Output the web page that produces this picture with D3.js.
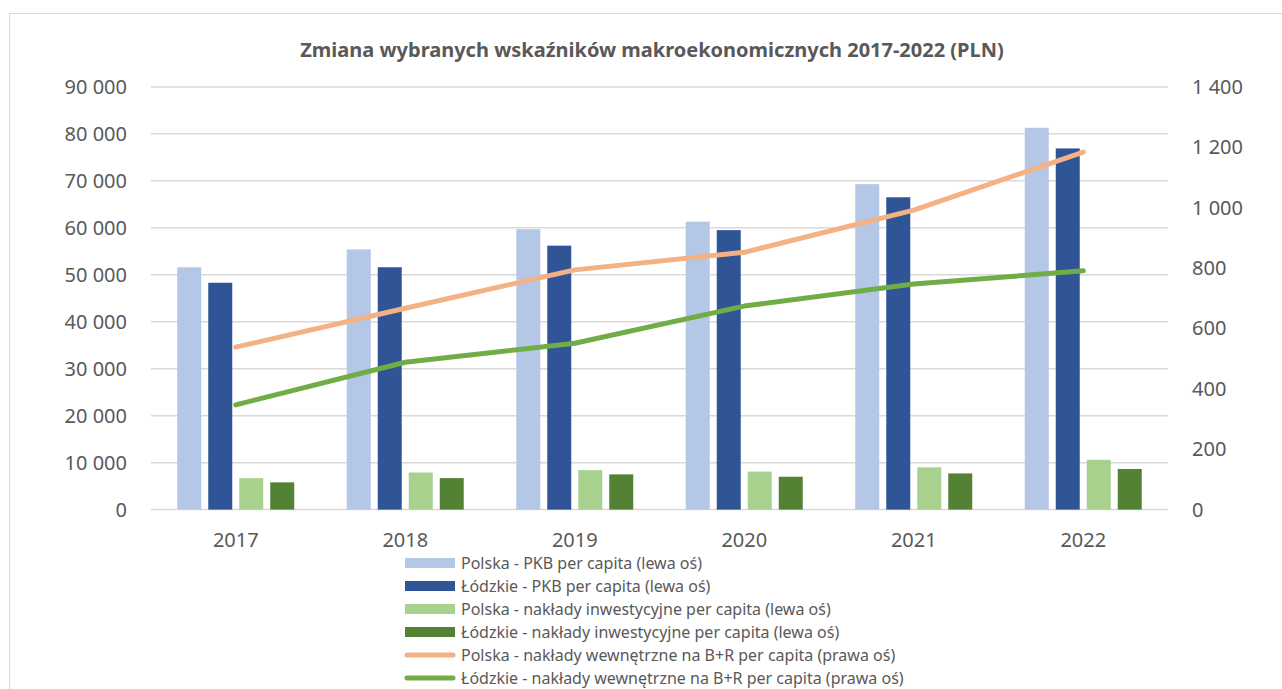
<!DOCTYPE html>
<html>
<head>
<meta charset="utf-8">
<script src="https://cdn.jsdelivr.net/npm/d3@7"></script>
<style>
  body { margin: 0; background: #fff; }
  text { font-family: "Noto Sans", "Open Sans", sans-serif; }
</style>
</head>
<body>
<div class="canvas"></div>
<script>
// data
const years = ['2017', '2018', '2019', '2020', '2021', '2022'];
const pkbPolska = [51600, 55400, 59700, 61300, 69300, 81300];
const pkbLodzkie = [48300, 51600, 56200, 59500, 66500, 76900];
const inwPolska = [6700, 7900, 8400, 8100, 9000, 10600];
const inwLodzkie = [5800, 6700, 7500, 7000, 7700, 8650];
const brPolska = [538, 667, 794, 852, 992, 1184];
const brLodzkie = [347, 488, 551, 674, 747, 791];
const leftTicks = [0, 10000, 20000, 30000, 40000, 50000, 60000, 70000, 80000, 90000];
const rightTicks = [0, 200, 400, 600, 800, 1000, 1200, 1400];

const barSeries = [
  {name: 'Polska - PKB per capita (lewa oś)', values: pkbPolska, color: '#B4C7E7'},
  {name: 'Łódzkie - PKB per capita (lewa oś)', values: pkbLodzkie, color: '#2F5597'},
  {name: 'Polska - nakłady inwestycyjne per capita (lewa oś)', values: inwPolska, color: '#A9D18E'},
  {name: 'Łódzkie - nakłady inwestycyjne per capita (lewa oś)', values: inwLodzkie, color: '#548235'}
];
const lineSeries = [
  {name: 'Polska - nakłady wewnętrzne na B+R per capita (prawa oś)', values: brPolska, color: '#F4B183'},
  {name: 'Łódzkie - nakłady wewnętrzne na B+R per capita (prawa oś)', values: brLodzkie, color: '#70AD47'}
];

const width = 1282, height = 689;
const svg = d3.select('.canvas')
  .append('svg')
    .attr('width', width)
    .attr('height', height);

// chart border
svg.append('rect')
  .attr('x', 9.5).attr('y', 13.5)
  .attr('width', 1290).attr('height', 700)
  .attr('fill', 'none')
  .attr('stroke', '#d9d9d9')
  .attr('stroke-width', 1);

// title
svg.append('text')
  .attr('x', 652).attr('y', 57)
  .attr('text-anchor', 'middle')
  .attr('font-size', 20)
  .attr('font-weight', 'bold')
  .attr('fill', '#595959')
  .text('Zmiana wybranych wskaźników makroekonomicznych 2017-2022 (PLN)');

// plot area
const plot = {left: 151, right: 1168, top: 86.9, bottom: 509.6};

const x = d3.scaleBand()
  .domain(years)
  .range([plot.left, plot.right]);

const yLeft = d3.scaleLinear()
  .domain([0, 90000])
  .range([plot.bottom, plot.top]);

const yRight = d3.scaleLinear()
  .domain([0, 1400])
  .range([plot.bottom, plot.top]);

const fmt = d => d3.format(',')(d).replace(/,/g, ' ');

// gridlines
svg.append('g')
  .selectAll('line')
  .data(leftTicks)
  .join('line')
    .attr('x1', plot.left).attr('x2', plot.right)
    .attr('y1', d => yLeft(d)).attr('y2', d => yLeft(d))
    .attr('stroke', '#d9d9d9')
    .attr('stroke-width', 1.5);

// left axis
const yAxisLeft = d3.axisLeft(yLeft)
  .tickValues(leftTicks)
  .tickSize(0)
  .tickPadding(0)
  .tickFormat(fmt);
const leftG = svg.append('g')
  .attr('transform', 'translate(127, 0)')
  .call(yAxisLeft);
leftG.select('.domain').remove();
leftG.selectAll('text')
  .attr('font-size', 20)
  .attr('fill', '#595959')
  .attr('font-family', '"Noto Sans", sans-serif');

// right axis
const yAxisRight = d3.axisRight(yRight)
  .tickValues(rightTicks)
  .tickSize(0)
  .tickPadding(0)
  .tickFormat(fmt);
const rightG = svg.append('g')
  .attr('transform', 'translate(1192, 0)')
  .call(yAxisRight);
rightG.select('.domain').remove();
rightG.selectAll('text')
  .attr('font-size', 20)
  .attr('fill', '#595959')
  .attr('font-family', '"Noto Sans", sans-serif');

// x axis
const xAxis = d3.axisBottom(x).tickSize(0).tickPadding(0);
const xG = svg.append('g')
  .attr('transform', `translate(0, ${plot.bottom + 23})`)
  .call(xAxis);
xG.select('.domain').remove();
xG.selectAll('text')
  .attr('font-size', 20)
  .attr('fill', '#595959')
  .attr('font-family', '"Noto Sans", sans-serif');

// bars: 4 per year, width 24, step 31
const barW = 24, barStep = 31;
const groupW = barW + barStep * (barSeries.length - 1);
const inner = d3.scaleBand()
  .domain(d3.range(barSeries.length))
  .range([0, groupW])
  .paddingInner((barStep - barW) / barStep);

barSeries.forEach((s, i) => {
  svg.append('g')
    .selectAll('rect')
    .data(s.values)
    .join('rect')
      .attr('x', (d, j) => x(years[j]) + x.bandwidth() / 2 - groupW / 2 + inner(i))
      .attr('y', d => yLeft(d))
      .attr('width', inner.bandwidth())
      .attr('height', d => plot.bottom - yLeft(d))
      .attr('fill', s.color);
});

// lines on right axis
const line = d3.line()
  .x((d, j) => x(years[j]) + x.bandwidth() / 2)
  .y(d => yRight(d));

lineSeries.forEach(s => {
  svg.append('path')
    .datum(s.values)
    .attr('d', line)
    .attr('fill', 'none')
    .attr('stroke', s.color)
    .attr('stroke-width', 5)
    .attr('stroke-linecap', 'round')
    .attr('stroke-linejoin', 'round');
});

// legend
const legend = svg.append('g').attr('transform', 'translate(405, 563)');
const legendItems = barSeries.map(s => ({...s, type: 'bar'}))
  .concat(lineSeries.map(s => ({...s, type: 'line'})));

const rows = legend.selectAll('g')
  .data(legendItems)
  .join('g')
    .attr('transform', (d, i) => `translate(0, ${i * 23})`);

rows.filter(d => d.type === 'bar')
  .append('rect')
    .attr('x', 0).attr('y', -5)
    .attr('width', 50).attr('height', 10)
    .attr('fill', d => d.color);

rows.filter(d => d.type === 'line')
  .append('line')
    .attr('x1', 2).attr('x2', 48)
    .attr('y1', 0).attr('y2', 0)
    .attr('stroke', d => d.color)
    .attr('stroke-width', 5)
    .attr('stroke-linecap', 'round');

rows.append('text')
  .attr('x', 56)
  .attr('y', 0)
  .attr('dy', '0.35em')
  .attr('font-size', 16)
  .attr('fill', '#595959')
  .text(d => d.name);
</script>
</body>
</html>
